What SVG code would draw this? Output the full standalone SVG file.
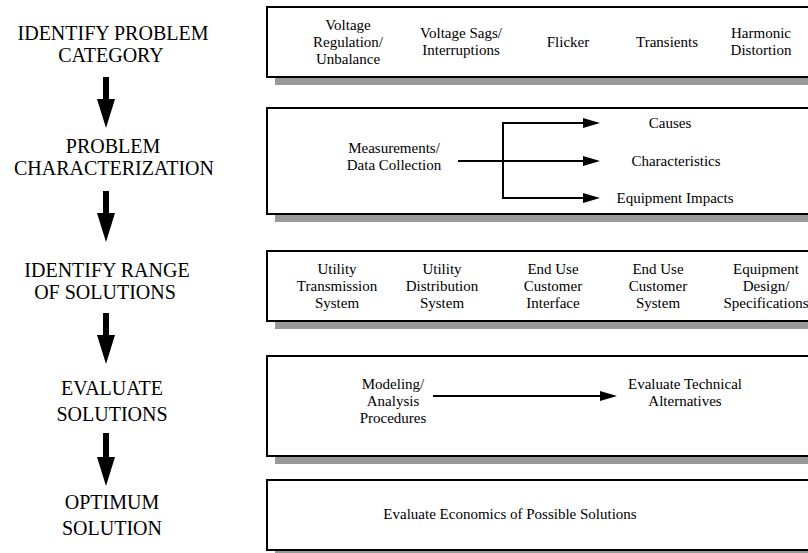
<svg xmlns="http://www.w3.org/2000/svg" width="808" height="553" viewBox="0 0 808 553">
<style>
.box{fill:#fff;stroke:#000;stroke-width:2}
.shadow{fill:#999}
text{font-family:'Liberation Serif','Tinos','Nimbus Roman','Nimbus Roman No9 L','FreeSerif','DejaVu Serif','Noto Serif',Times,serif;fill:#000;text-anchor:middle}
.lbl{font-size:20px}
.t{font-size:15px}
.ln{stroke:#000;stroke-width:2;fill:none}
.bigarrow{fill:#000}
</style>
<defs>
<marker id="ah" viewBox="0 0 17 10" refX="7" refY="5" markerWidth="17" markerHeight="10" markerUnits="userSpaceOnUse" orient="auto">
<path d="M0,0 L17,5 L0,10 z" fill="#000"/>
</marker>
</defs>
<rect width="808" height="553" fill="#fff"/>

<g id="label-identify-category">
<text class="lbl" x="113" y="40">IDENTIFY PROBLEM</text>
<text class="lbl" x="111" y="62">CATEGORY</text>
</g>
<g id="label-characterization">
<text class="lbl" x="113" y="153">PROBLEM</text>
<text class="lbl" x="114" y="175">CHARACTERIZATION</text>
</g>
<g id="label-range">
<text class="lbl" x="107" y="277">IDENTIFY RANGE</text>
<text class="lbl" x="105" y="299">OF SOLUTIONS</text>
</g>
<g id="label-evaluate">
<text class="lbl" x="112" y="395">EVALUATE</text>
<text class="lbl" x="112" y="421">SOLUTIONS</text>
</g>
<g id="label-optimum">
<text class="lbl" x="112" y="509">OPTIMUM</text>
<text class="lbl" x="112" y="535">SOLUTION</text>
</g>

<g id="box-category">
<rect class="shadow" x="275" y="15" width="560" height="70"/>
<rect class="box" x="267" y="7" width="560" height="70"/>
<text class="t" x="348" y="30">Voltage</text>
<text class="t" x="348" y="47">Regulation/</text>
<text class="t" x="348" y="64">Unbalance</text>
<text class="t" x="461" y="38">Voltage Sags/</text>
<text class="t" x="461" y="55">Interruptions</text>
<text class="t" x="568" y="47">Flicker</text>
<text class="t" x="667" y="47">Transients</text>
<text class="t" x="761" y="38">Harmonic</text>
<text class="t" x="761" y="55">Distortion</text>
</g>

<g id="box-characterization">
<rect class="shadow" x="275" y="116" width="560" height="106"/>
<rect class="box" x="267" y="108" width="560" height="106"/>
<text class="t" x="394" y="153">Measurements/</text>
<text class="t" x="394" y="170">Data Collection</text>
<text class="t" x="670" y="128">Causes</text>
<text class="t" x="676" y="166">Characteristics</text>
<text class="t" x="675" y="203">Equipment Impacts</text>
</g>

<g id="box-range">
<rect class="shadow" x="275" y="259" width="560" height="70"/>
<rect class="box" x="267" y="251" width="560" height="70"/>
<text class="t" x="337" y="274">Utility</text>
<text class="t" x="337" y="291">Transmission</text>
<text class="t" x="337" y="308">System</text>
<text class="t" x="442" y="274">Utility</text>
<text class="t" x="442" y="291">Distribution</text>
<text class="t" x="442" y="308">System</text>
<text class="t" x="553" y="274">End Use</text>
<text class="t" x="553" y="291">Customer</text>
<text class="t" x="553" y="308">Interface</text>
<text class="t" x="658" y="274">End Use</text>
<text class="t" x="658" y="291">Customer</text>
<text class="t" x="658" y="308">System</text>
<text class="t" x="766" y="274">Equipment</text>
<text class="t" x="766" y="291">Design/</text>
<text class="t" x="766" y="308">Specifications</text>
</g>

<g id="box-evaluate">
<rect class="shadow" x="275" y="364" width="560" height="100"/>
<rect class="box" x="267" y="356" width="560" height="100"/>
<text class="t" x="393" y="389">Modeling/</text>
<text class="t" x="393" y="406">Analysis</text>
<text class="t" x="393" y="423">Procedures</text>
<text class="t" x="685" y="389">Evaluate Technical</text>
<text class="t" x="685" y="406">Alternatives</text>
</g>

<g id="box-optimum">
<rect class="shadow" x="275" y="488" width="560" height="70"/>
<rect class="box" x="267" y="480" width="560" height="70"/>
<text class="t" x="510" y="519">Evaluate Economics of Possible Solutions</text>
</g>

<g id="connectors">
<polygon class="bigarrow" points="103,77 109,77 109,99 115,99 106,128 97,99 103,99"/>
<polygon class="bigarrow" points="103,191 109,191 109,213 115,213 106,242 97,213 103,213"/>
<polygon class="bigarrow" points="103,313 109,313 109,335 115,335 106,364 97,335 103,335"/>
<polygon class="bigarrow" points="103,433 109,433 109,457 115,457 106,486 97,457 103,457"/>
<path class="ln" d="M458,161 L590,161" marker-end="url(#ah)"/>
<path class="ln" d="M590,123 L503,123 L503,198 L590,198" marker-end="url(#ah)"/>
<path class="ln" d="M503,123 L590,123" marker-end="url(#ah)"/>
<path class="ln" d="M433,396 L607,396" marker-end="url(#ah)"/>
</g>
</svg>
